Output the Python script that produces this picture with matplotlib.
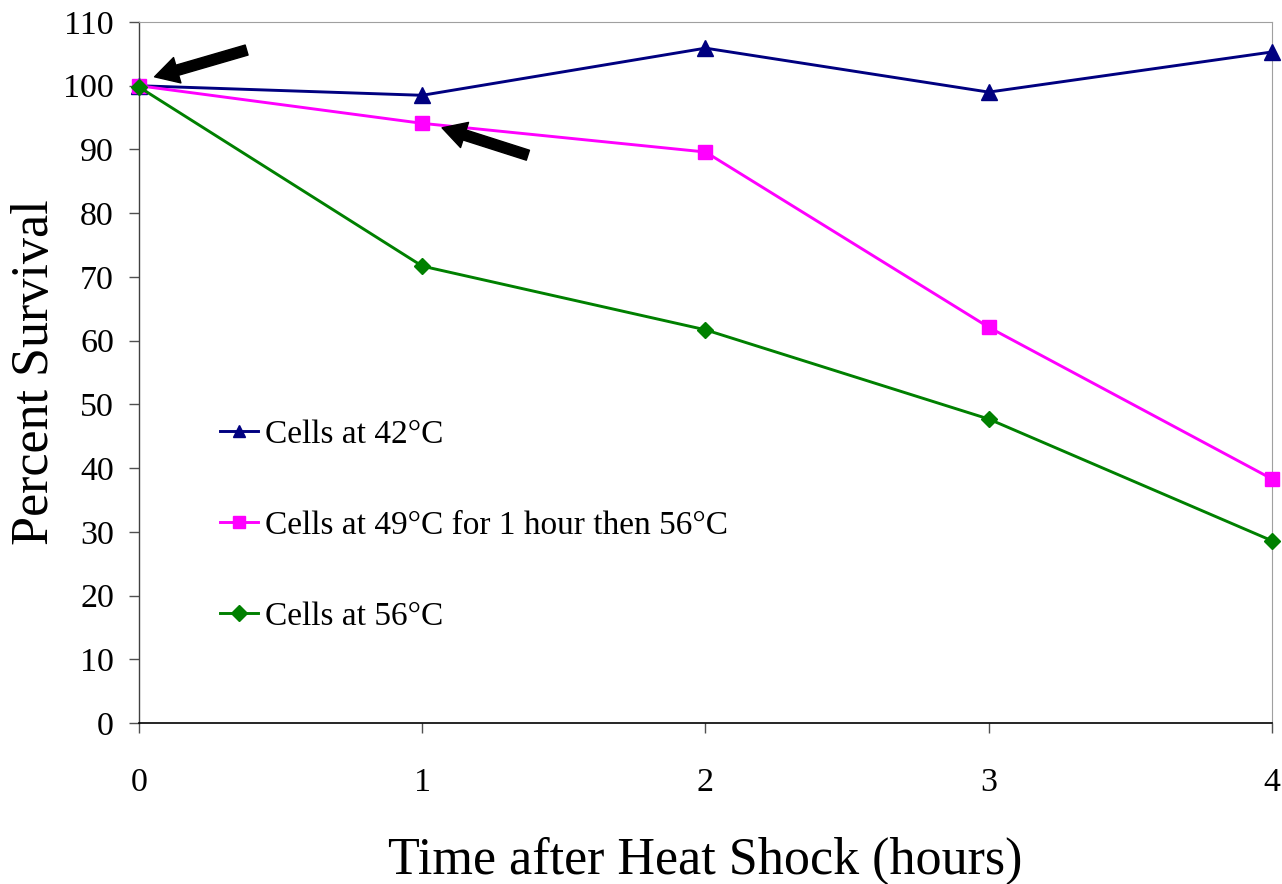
import matplotlib
matplotlib.use("Agg")
import matplotlib.pyplot as plt

hours = [0, 1, 2, 3, 4]
cells_42 = [100, 98.5, 105.9, 99.0, 105.3]
cells_49_56 = [100, 94.1, 89.6, 62.1, 38.3]
cells_56 = [99.8, 71.7, 61.7, 47.7, 28.6]
labels = ["Cells at 42°C", "Cells at 49°C for 1 hour then 56°C", "Cells at 56°C"]
colors = ["#000080", "#FF00FF", "#008000"]
markers = ["^", "s", "D"]
msizes = [11, 10, 8.5]
yticks = list(range(0, 111, 10))

# annotation arrows: (tail x, tail y, head x, head y) in data units
arrows = [(0.38, 105.6, 0.055, 101.4), (1.373, 89.1, 1.07, 93.4)]

plt.rcParams['font.family'] = ['Liberation Serif', 'DejaVu Serif']

fig = plt.figure(figsize=(12.82, 8.84), dpi=100)
ax = fig.add_axes([0.1084, 0.1821, 0.8838, 0.7930])

series = [cells_42, cells_49_56, cells_56]
handles = []
for vals, lab, c, m, ms in zip(series, labels, colors, markers, msizes):
    h, = ax.plot(hours, vals, color=c, marker=m, markersize=ms, linewidth=2.1,
                 label=lab, clip_on=False, zorder=3)
    handles.append(h)

for tx, ty, hx, hy in arrows:
    ax.annotate("", xy=(hx, hy), xytext=(tx, ty),
                arrowprops=dict(arrowstyle="simple,head_length=1.7,head_width=1.9,tail_width=0.75",
                                color="black", shrinkA=0, shrinkB=0), zorder=5)

ax.set_xlim(0, 4)
ax.set_ylim(0, 110)
ax.set_xticks(hours)
ax.set_yticks(yticks)
ax.tick_params(axis='both', labelsize=24.5, direction='out', length=7, width=1,
               color='#505050')
ax.tick_params(axis='x', pad=25)
ax.tick_params(axis='y', pad=11)
for sp in ['top', 'right']:
    ax.spines[sp].set_color('#a0a0a0')
ax.spines['left'].set_color('#404040')
ax.spines['bottom'].set_color('black')
ax.spines['left'].set_linewidth(1)
ax.spines['bottom'].set_linewidth(1.2)

ax.set_xlabel("Time after Heat Shock (hours)", fontsize=37.5, labelpad=28)
ax.set_ylabel("Percent Survival", fontsize=37.5, labelpad=3)

leg = ax.legend(handles=handles, loc='upper left', bbox_to_anchor=(0.0594, 0.452),
                frameon=False, fontsize=24, handlelength=1.14, handletextpad=0.21,
                labelspacing=1.81, borderaxespad=0)
for h in leg.legend_handles:
    h.set_markersize(8)

fig.savefig("out.png", dpi=100)
